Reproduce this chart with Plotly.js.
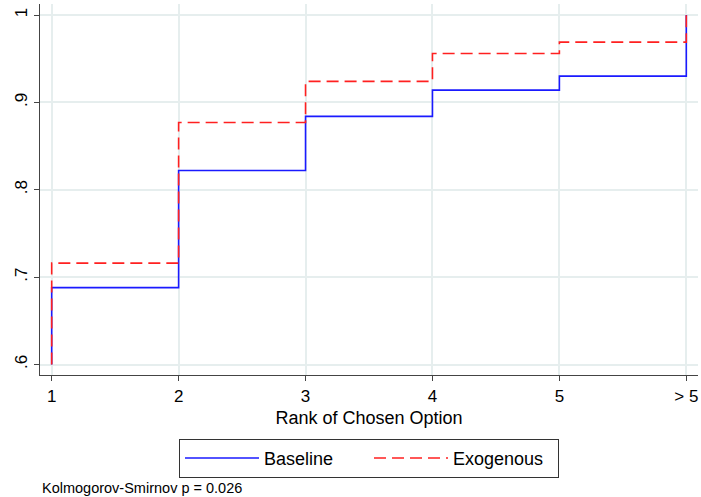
<!DOCTYPE html>
<html><head><meta charset="utf-8">
<script src="https://cdn.plot.ly/plotly-3.0.1.min.js"></script>
<style>body{margin:0;background:#fff}#c{width:701px;height:497px}</style>
</head><body><div id="c"></div>
<script>
const ranks = [1, 1, 2, 3, 4, 5, 6];
const tickVals = [1, 2, 3, 4, 5, 6];
const tickText = ["1", "2", "3", "4", "5", "> 5"];
const baseline = [0.6, 0.688, 0.822, 0.884, 0.914, 0.930, 1.0];
const exogenous = [0.6, 0.716, 0.877, 0.924, 0.956, 0.969, 1.0];
const yTickVals = [0.6, 0.7, 0.8, 0.9, 1.0];
const yTickText = [".6", ".7", ".8", ".9", "1"];

const font = "Liberation Sans, Arial, Helvetica, sans-serif";
const traces = [
  {x: ranks, y: baseline, name: "Baseline", mode: "lines", line: {shape: "hv", color: "#1a1aff", width: 1.6}},
  {x: ranks, y: exogenous, name: "Exogenous", mode: "lines", line: {shape: "hv", color: "#ff2020", width: 1.6, dash: "12px,6px"}}
];
const layout = {
  width: 701, height: 497,
  margin: {l: 40, r: 3, t: 4, b: 122},
  paper_bgcolor: "#fff", plot_bgcolor: "#fff",
  font: {family: font, color: "#000"},
  showlegend: true,
  xaxis: {
    range: [0.908, 6.092], tickvals: tickVals, ticktext: tickText,
    showgrid: true, gridcolor: "#e6eeee", gridwidth: 1.5,
    zeroline: false, showline: true, linecolor: "#444", linewidth: 1.2,
    ticks: "outside", ticklen: 5, tickcolor: "#444",
    tickfont: {size: 17, family: font},
    title: {text: "Rank of Chosen Option", font: {size: 18, family: font}, standoff: 6}
  },
  yaxis: {
    range: [0.588, 1.0126], tickvals: yTickVals, ticktext: yTickText, tickangle: -90,
    showgrid: true, gridcolor: "#e6eeee", gridwidth: 1.5,
    zeroline: false, showline: true, linecolor: "#444", linewidth: 1.2,
    ticks: "outside", ticklen: 5, tickcolor: "#444",
    tickfont: {size: 17, family: font}
  },
  legend: {
    orientation: "h", x: 0.5, xanchor: "center", y: -0.172, yanchor: "top",
    bordercolor: "#333", borderwidth: 1, font: {size: 18, family: font},
    itemwidth: 74, entrywidth: 100
  },
  annotations: [{
    text: "Kolmogorov-Smirnov p = 0.026", xref: "paper", yref: "paper",
    x: 0, xanchor: "left", y: -0.305, yanchor: "middle", showarrow: false,
    font: {size: 14.5, family: font}
  }]
};
Plotly.newPlot("c", traces, layout, {displayModeBar: false});
</script></body></html>
